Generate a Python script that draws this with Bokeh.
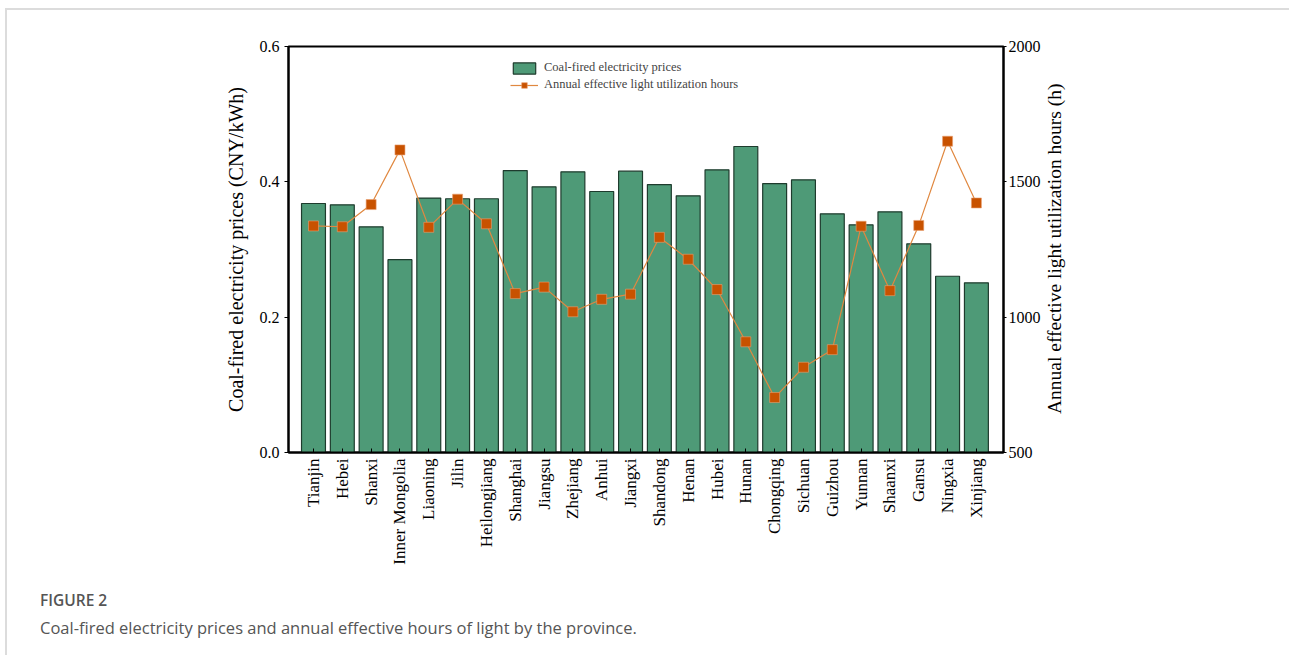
from bokeh.plotting import figure
from bokeh.models import (Range1d, LinearAxis, FixedTicker, PrintfTickFormatter,
                          ColumnDataSource, Legend, LegendItem, Div)
from bokeh.layouts import column, row
from bokeh.embed import file_html
from bokeh.resources import INLINE
import math

provinces = ["Tianjin", "Hebei", "Shanxi", "Inner Mongolia", "Liaoning", "Jilin",
             "Heilongjiang", "Shanghai", "Jiangsu", "Zhejiang", "Anhui", "Jiangxi",
             "Shandong", "Henan", "Hubei", "Hunan", "Chongqing", "Sichuan",
             "Guizhou", "Yunnan", "Shaanxi", "Gansu", "Ningxia", "Xinjiang"]
prices = [0.368, 0.366, 0.3335, 0.285, 0.376, 0.375, 0.375, 0.4167, 0.3926, 0.4148,
          0.3857, 0.4157, 0.396, 0.3793, 0.4177, 0.4522, 0.3975, 0.403, 0.3527,
          0.3365, 0.3557, 0.3084, 0.2605, 0.2508]
hours = [1337, 1334, 1416, 1618, 1332, 1436, 1345, 1087, 1111, 1020, 1066, 1085,
         1295, 1214, 1102, 909, 703, 815, 880, 1336, 1098, 1339, 1650, 1422]
left_ticks = [0.0, 0.2, 0.4, 0.6]
right_ticks = [500, 1000, 1500, 2000]
left_title = "Coal-fired electricity prices (CNY/kWh)"
right_title = "Annual effective light utilization hours (h)"
caption_title = "FIGURE 2"
caption_text = "Coal-fired electricity prices and annual effective hours of light by the province."

SERIF = "Liberation Serif"

idx = list(range(len(provinces)))
src = ColumnDataSource(dict(x=idx, price=prices, hours=hours))

p = figure(width=1036, height=575, output_backend="svg", toolbar_location=None,
           x_range=Range1d(-0.867, 23.94), y_range=Range1d(0, 0.6),
           min_border_left=281, min_border_right=40, min_border_top=36,
           min_border_bottom=133)
p.extra_y_ranges = {"hours": Range1d(500, 2000)}
p.grid.visible = False
p.outline_line_color = "black"
p.outline_line_width = 2

bars = p.vbar(x="x", top="price", width=0.83, source=src,
              fill_color="#4E9A77", line_color="#1E3B2D", line_width=1.2)
line = p.line(x="x", y="hours", source=src, y_range_name="hours",
              line_color="#E08840", line_width=1.2)
pts = p.scatter(x="x", y="hours", source=src, y_range_name="hours", marker="square",
                size=10, fill_color="#C85200", line_color="#E9A070", line_width=0.6)

# x axis
xa = p.xaxis[0]
xa.ticker = FixedTicker(ticks=idx)
xa.major_label_overrides = {i: n for i, n in enumerate(provinces)}
xa.major_label_orientation = math.pi / 2
xa.major_label_text_font = SERIF
xa.major_label_text_font_size = "17px"
xa.major_label_text_color = "black"
xa.major_tick_in = 4
xa.major_tick_out = 0
xa.minor_tick_line_color = None
xa.axis_line_width = 2
xa.major_label_standoff = 6

# left axis
ya = p.yaxis[0]
ya.ticker = FixedTicker(ticks=left_ticks)
ya.formatter = PrintfTickFormatter(format="%.1f")
ya.axis_label = left_title
ya.axis_label_text_font = SERIF
ya.axis_label_text_font_size = "20px"
ya.axis_label_text_font_style = "normal"
ya.axis_label_text_color = "black"
ya.axis_label_standoff = 10
ya.major_label_text_font = SERIF
ya.major_label_text_font_size = "16px"
ya.major_label_text_color = "black"
ya.major_tick_in = 0
ya.major_tick_out = 4
ya.minor_tick_line_color = None
ya.axis_line_width = 2

# right axis (its title is drawn next to the figure, reading bottom to top)
ra = LinearAxis(y_range_name="hours", ticker=FixedTicker(ticks=right_ticks))
ra.major_label_text_font = SERIF
ra.major_label_text_font_size = "16px"
ra.major_label_text_color = "black"
ra.major_tick_in = 0
ra.major_tick_out = 3
ra.minor_tick_line_color = None
ra.axis_line_width = 2
ra.major_label_standoff = 2
p.add_layout(ra, "right")

legend = Legend(items=[LegendItem(label="Coal-fired electricity prices", renderers=[bars]),
                       LegendItem(label="Annual effective light utilization hours",
                                  renderers=[line, pts])],
                location=(222, 360), border_line_color=None, background_fill_alpha=0,
                label_text_font=SERIF, label_text_font_size="12.5px",
                glyph_width=28, glyph_height=14, spacing=2, padding=4, margin=0,
                label_standoff=6)
p.add_layout(legend, "center")

rtitle = Div(width=30, height=575,
             text=(f'<div style="margin-top:31px;margin-left:-7px;height:406px;width:28px;'
                   f'line-height:28px;writing-mode:vertical-rl;transform:rotate(180deg);'
                   f'text-align:center;font-family:\'Liberation Serif\';font-size:19.5px;'
                   f'color:#000;white-space:nowrap">{right_title}</div>'))

cap = Div(width=1280, height=50,
          text=(f'<div style="font-family:\'Open Sans\';font-size:16.5px;color:#555;'
                f'line-height:27px;padding-left:28px;margin-top:-14px">'
                f'<span style="font-weight:600;font-size:15.5px">{caption_title}</span>'
                f'<br>{caption_text}</div>'))

layout = column(row(p, rtitle, spacing=0), cap, spacing=0)
layout.styles = {"border-top": "2px solid #dcdcdc", "border-left": "2px solid #dcdcdc",
                 "margin-left": "5px", "margin-top": "8px"}

open("out.html", "w").write(file_html(layout, INLINE))
